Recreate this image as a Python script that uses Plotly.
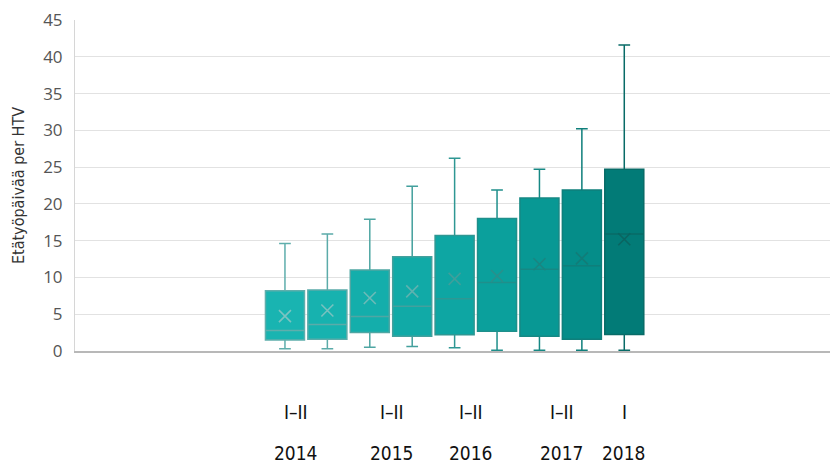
import plotly.graph_objects as go

# Remote-work days per FTE, half-year periods 2014–2018
periods = ["2014 I", "2014 II", "2015 I", "2015 II", "2016 I", "2016 II",
           "2017 I", "2017 II", "2018 I"]
lower_whisker = [0.3, 0.3, 0.5, 0.6, 0.45, 0.1, 0.1, 0.1, 0.1]
q1 = [1.5, 1.6, 2.5, 2.0, 2.2, 2.7, 2.0, 1.6, 2.25]
median = [2.8, 3.6, 4.7, 6.1, 7.1, 9.3, 11.1, 11.6, 15.9]
q3 = [8.2, 8.3, 11.0, 12.8, 15.7, 18.0, 20.8, 21.9, 24.7]
upper_whisker = [14.6, 15.9, 17.9, 22.4, 26.2, 21.9, 24.7, 30.2, 41.6]
mean = [4.75, 5.5, 7.2, 8.1, 9.8, 10.2, 11.8, 12.6, 15.2]

half_labels = ["I–II", "I–II", "I–II", "I–II", "I"]
year_labels = ["2014", "2015", "2016", "2017", "2018"]
year_label_x = [0.26, 2.52, 4.39, 6.53, 8.0]

fills = ["#19B4B1", "#17B2AF", "#14AEAB", "#11AAA7", "#0EA6A3",
         "#0BA09C", "#089894", "#058D89", "#027B77"]
edges = ["#5FAEAC", "#5BABA9", "#4FA6A3", "#43A09D", "#2E9793",
         "#1F8F8B", "#168884", "#0F7F7B", "#086B67"]
marks = ["#7CC3C1", "#78C1BF", "#6CBAB7", "#5EB2AF", "#3F9F9B",
         "#2A8F8B", "#1B8581", "#127C78", "#0A6561"]

fig = go.Figure()
for i in range(len(periods)):
    fig.add_trace(go.Box(
        x=[i], q1=[q1[i]], median=[median[i]], q3=[q3[i]],
        lowerfence=[lower_whisker[i]], upperfence=[upper_whisker[i]],
        width=0.92, whiskerwidth=0.3,
        fillcolor=fills[i], line=dict(color=edges[i], width=1.5),
        name=periods[i], showlegend=False, hoverinfo="skip",
    ))
    fig.add_trace(go.Scatter(
        x=[i], y=[mean[i]], mode="markers",
        marker=dict(symbol="x-thin", size=12,
                    line=dict(color=marks[i], width=1.6)),
        showlegend=False, hoverinfo="skip",
    ))

narrow = "DejaVu Sans Condensed, Liberation Sans Narrow, sans-serif"
for xp, h, y in zip(year_label_x, half_labels, year_labels):
    fig.add_annotation(x=xp, y=-0.185, xref="x", yref="paper", text=h,
                       yanchor="middle", showarrow=False,
                       font=dict(family=narrow, size=19, color="#111"))
    fig.add_annotation(x=xp, y=-0.309, xref="x", yref="paper", text=y,
                       yanchor="middle", showarrow=False,
                       font=dict(family=narrow, size=19, color="#111"))

fig.update_layout(
    width=830, height=463,
    margin=dict(l=75, r=0, t=20, b=112),
    paper_bgcolor="white", plot_bgcolor="white",
    xaxis=dict(range=[-4.95, 12.85], showticklabels=False, showgrid=False,
               zeroline=False, showline=True, linecolor="#b8b8b8", linewidth=2,
               mirror=False),
    yaxis=dict(range=[0, 45], dtick=5, showgrid=True, gridcolor="#e2e2e2",
               gridwidth=1, zeroline=False, showline=True, linecolor="#d6d6d6",
               linewidth=1, ticks="", ticklabelstandoff=8,
               tickfont=dict(family="Open Sans, sans-serif", size=17, color="#555"),
               title=dict(text="Etätyöpäivää per HTV", standoff=14,
                          font=dict(family=narrow, size=16, color="#333"))),
)

fig.write_html("out.html")
